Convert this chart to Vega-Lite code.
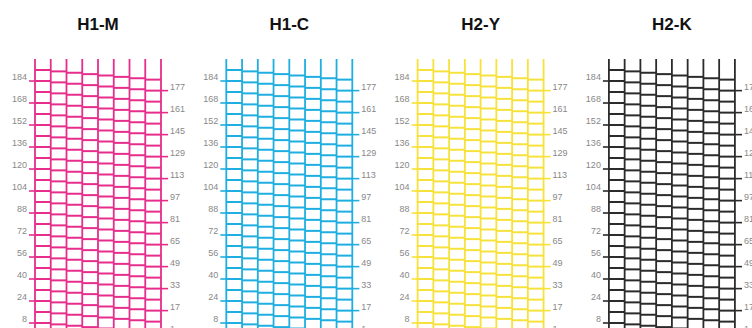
{
"$schema": "https://vega.github.io/schema/vega-lite/v6.json",
"bounds": "flush",
"padding": {"left": 11, "top": 16, "right": 0, "bottom": 0},
"spacing": 65.3,
"background": "white",
"config": {"view": {"stroke": null}, "title": {"font": "Liberation Sans", "fontSize": 17, "fontWeight": "bold", "color": "#111", "anchor": "middle", "baseline": "alphabetic", "offset": 24}},
"datasets": {
"noz": [
{"n":192,"c":0},{"n":191,"c":1},{"n":190,"c":2},{"n":189,"c":3},{"n":188,"c":4},{"n":187,"c":5},{"n":186,"c":6},{"n":185,"c":7},
{"n":184,"c":0},{"n":183,"c":1},{"n":182,"c":2},{"n":181,"c":3},{"n":180,"c":4},{"n":179,"c":5},{"n":178,"c":6},{"n":177,"c":7},
{"n":176,"c":0},{"n":175,"c":1},{"n":174,"c":2},{"n":173,"c":3},{"n":172,"c":4},{"n":171,"c":5},{"n":170,"c":6},{"n":169,"c":7},
{"n":168,"c":0},{"n":167,"c":1},{"n":166,"c":2},{"n":165,"c":3},{"n":164,"c":4},{"n":163,"c":5},{"n":162,"c":6},{"n":161,"c":7},
{"n":160,"c":0},{"n":159,"c":1},{"n":158,"c":2},{"n":157,"c":3},{"n":156,"c":4},{"n":155,"c":5},{"n":154,"c":6},{"n":153,"c":7},
{"n":152,"c":0},{"n":151,"c":1},{"n":150,"c":2},{"n":149,"c":3},{"n":148,"c":4},{"n":147,"c":5},{"n":146,"c":6},{"n":145,"c":7},
{"n":144,"c":0},{"n":143,"c":1},{"n":142,"c":2},{"n":141,"c":3},{"n":140,"c":4},{"n":139,"c":5},{"n":138,"c":6},{"n":137,"c":7},
{"n":136,"c":0},{"n":135,"c":1},{"n":134,"c":2},{"n":133,"c":3},{"n":132,"c":4},{"n":131,"c":5},{"n":130,"c":6},{"n":129,"c":7},
{"n":128,"c":0},{"n":127,"c":1},{"n":126,"c":2},{"n":125,"c":3},{"n":124,"c":4},{"n":123,"c":5},{"n":122,"c":6},{"n":121,"c":7},
{"n":120,"c":0},{"n":119,"c":1},{"n":118,"c":2},{"n":117,"c":3},{"n":116,"c":4},{"n":115,"c":5},{"n":114,"c":6},{"n":113,"c":7},
{"n":112,"c":0},{"n":111,"c":1},{"n":110,"c":2},{"n":109,"c":3},{"n":108,"c":4},{"n":107,"c":5},{"n":106,"c":6},{"n":105,"c":7},
{"n":104,"c":0},{"n":103,"c":1},{"n":102,"c":2},{"n":101,"c":3},{"n":100,"c":4},{"n":99,"c":5},{"n":98,"c":6},{"n":97,"c":7},
{"n":96,"c":0},{"n":95,"c":1},{"n":94,"c":2},{"n":93,"c":3},{"n":92,"c":4},{"n":91,"c":5},{"n":90,"c":6},{"n":89,"c":7},
{"n":88,"c":0},{"n":87,"c":1},{"n":86,"c":2},{"n":85,"c":3},{"n":84,"c":4},{"n":83,"c":5},{"n":82,"c":6},{"n":81,"c":7},
{"n":80,"c":0},{"n":79,"c":1},{"n":78,"c":2},{"n":77,"c":3},{"n":76,"c":4},{"n":75,"c":5},{"n":74,"c":6},{"n":73,"c":7},
{"n":72,"c":0},{"n":71,"c":1},{"n":70,"c":2},{"n":69,"c":3},{"n":68,"c":4},{"n":67,"c":5},{"n":66,"c":6},{"n":65,"c":7},
{"n":64,"c":0},{"n":63,"c":1},{"n":62,"c":2},{"n":61,"c":3},{"n":60,"c":4},{"n":59,"c":5},{"n":58,"c":6},{"n":57,"c":7},
{"n":56,"c":0},{"n":55,"c":1},{"n":54,"c":2},{"n":53,"c":3},{"n":52,"c":4},{"n":51,"c":5},{"n":50,"c":6},{"n":49,"c":7},
{"n":48,"c":0},{"n":47,"c":1},{"n":46,"c":2},{"n":45,"c":3},{"n":44,"c":4},{"n":43,"c":5},{"n":42,"c":6},{"n":41,"c":7},
{"n":40,"c":0},{"n":39,"c":1},{"n":38,"c":2},{"n":37,"c":3},{"n":36,"c":4},{"n":35,"c":5},{"n":34,"c":6},{"n":33,"c":7},
{"n":32,"c":0},{"n":31,"c":1},{"n":30,"c":2},{"n":29,"c":3},{"n":28,"c":4},{"n":27,"c":5},{"n":26,"c":6},{"n":25,"c":7},
{"n":24,"c":0},{"n":23,"c":1},{"n":22,"c":2},{"n":21,"c":3},{"n":20,"c":4},{"n":19,"c":5},{"n":18,"c":6},{"n":17,"c":7},
{"n":16,"c":0},{"n":15,"c":1},{"n":14,"c":2},{"n":13,"c":3},{"n":12,"c":4},{"n":11,"c":5},{"n":10,"c":6},{"n":9,"c":7},
{"n":8,"c":0},{"n":7,"c":1},{"n":6,"c":2},{"n":5,"c":3},{"n":4,"c":4},{"n":3,"c":5},{"n":2,"c":6},{"n":1,"c":7}
],
"bounds": [{"b":0},{"b":1},{"b":2},{"b":3},{"b":4},{"b":5},{"b":6},{"b":7},{"b":8}],
"left": [{"n":184},{"n":168},{"n":152},{"n":136},{"n":120},{"n":104},{"n":88},{"n":72},{"n":56},{"n":40},{"n":24},{"n":8}],
"right": [{"n":177},{"n":161},{"n":145},{"n":129},{"n":113},{"n":97},{"n":81},{"n":65},{"n":49},{"n":33},{"n":17},{"n":1}]
},
"hconcat": [
{"width": 126, "height": 275, "title": "H1-M",
 "layer": [
  {"data": {"name": "noz"}, "mark": {"type": "tick", "orient": "horizontal", "size": 15.75, "thickness": 2, "xOffset": 7.875, "color": "#e62d8c", "opacity": 1},
   "encoding": {"x": {"field": "c", "type": "quantitative", "scale": {"domain": [0, 8]}, "axis": null}, "y": {"field": "n", "type": "quantitative", "scale": {"domain": [0, 192]}, "axis": null}}},
  {"data": {"name": "bounds"}, "mark": {"type": "rule", "color": "#e62d8c", "strokeWidth": 1.8}, "encoding": {"x": {"field": "b", "type": "quantitative"}}},
  {"data": {"name": "left"}, "mark": {"type": "rule", "color": "#e62d8c", "strokeWidth": 1.6}, "encoding": {"x": {"datum": -0.38}, "x2": {"datum": 0}, "y": {"field": "n", "type": "quantitative"}}},
  {"data": {"name": "right"}, "mark": {"type": "rule", "color": "#e62d8c", "strokeWidth": 1.6}, "encoding": {"x": {"datum": 8}, "x2": {"datum": 8.45}, "y": {"field": "n", "type": "quantitative"}}},
  {"data": {"name": "left"}, "mark": {"type": "text", "align": "right", "baseline": "alphabetic", "dx": -8, "dy": -1, "font": "Liberation Sans", "fontSize": 9, "color": "#888"}, "encoding": {"x": {"datum": 0}, "y": {"field": "n", "type": "quantitative"}, "text": {"field": "n"}}},
  {"data": {"name": "right"}, "mark": {"type": "text", "align": "left", "baseline": "alphabetic", "dx": 9, "dy": -1, "font": "Liberation Sans", "fontSize": 9, "color": "#888"}, "encoding": {"x": {"datum": 8}, "y": {"field": "n", "type": "quantitative"}, "text": {"field": "n"}}}
 ]},
{"width": 126, "height": 275, "title": "H1-C",
 "layer": [
  {"data": {"name": "noz"}, "mark": {"type": "tick", "orient": "horizontal", "size": 15.75, "thickness": 2, "xOffset": 7.875, "color": "#1eaee0", "opacity": 1},
   "encoding": {"x": {"field": "c", "type": "quantitative", "scale": {"domain": [0, 8]}, "axis": null}, "y": {"field": "n", "type": "quantitative", "scale": {"domain": [0, 192]}, "axis": null}}},
  {"data": {"name": "bounds"}, "mark": {"type": "rule", "color": "#1eaee0", "strokeWidth": 1.8}, "encoding": {"x": {"field": "b", "type": "quantitative"}}},
  {"data": {"name": "left"}, "mark": {"type": "rule", "color": "#1eaee0", "strokeWidth": 1.6}, "encoding": {"x": {"datum": -0.38}, "x2": {"datum": 0}, "y": {"field": "n", "type": "quantitative"}}},
  {"data": {"name": "right"}, "mark": {"type": "rule", "color": "#1eaee0", "strokeWidth": 1.6}, "encoding": {"x": {"datum": 8}, "x2": {"datum": 8.45}, "y": {"field": "n", "type": "quantitative"}}},
  {"data": {"name": "left"}, "mark": {"type": "text", "align": "right", "baseline": "alphabetic", "dx": -8, "dy": -1, "font": "Liberation Sans", "fontSize": 9, "color": "#888"}, "encoding": {"x": {"datum": 0}, "y": {"field": "n", "type": "quantitative"}, "text": {"field": "n"}}},
  {"data": {"name": "right"}, "mark": {"type": "text", "align": "left", "baseline": "alphabetic", "dx": 9, "dy": -1, "font": "Liberation Sans", "fontSize": 9, "color": "#888"}, "encoding": {"x": {"datum": 8}, "y": {"field": "n", "type": "quantitative"}, "text": {"field": "n"}}}
 ]},
{"width": 126, "height": 275, "title": "H2-Y",
 "layer": [
  {"data": {"name": "noz"}, "mark": {"type": "tick", "orient": "horizontal", "size": 15.75, "thickness": 2, "xOffset": 7.875, "color": "#f7e23c", "opacity": 1},
   "encoding": {"x": {"field": "c", "type": "quantitative", "scale": {"domain": [0, 8]}, "axis": null}, "y": {"field": "n", "type": "quantitative", "scale": {"domain": [0, 192]}, "axis": null}}},
  {"data": {"name": "bounds"}, "mark": {"type": "rule", "color": "#f7e23c", "strokeWidth": 1.8}, "encoding": {"x": {"field": "b", "type": "quantitative"}}},
  {"data": {"name": "left"}, "mark": {"type": "rule", "color": "#f7e23c", "strokeWidth": 1.6}, "encoding": {"x": {"datum": -0.38}, "x2": {"datum": 0}, "y": {"field": "n", "type": "quantitative"}}},
  {"data": {"name": "right"}, "mark": {"type": "rule", "color": "#f7e23c", "strokeWidth": 1.6}, "encoding": {"x": {"datum": 8}, "x2": {"datum": 8.45}, "y": {"field": "n", "type": "quantitative"}}},
  {"data": {"name": "left"}, "mark": {"type": "text", "align": "right", "baseline": "alphabetic", "dx": -8, "dy": -1, "font": "Liberation Sans", "fontSize": 9, "color": "#888"}, "encoding": {"x": {"datum": 0}, "y": {"field": "n", "type": "quantitative"}, "text": {"field": "n"}}},
  {"data": {"name": "right"}, "mark": {"type": "text", "align": "left", "baseline": "alphabetic", "dx": 9, "dy": -1, "font": "Liberation Sans", "fontSize": 9, "color": "#888"}, "encoding": {"x": {"datum": 8}, "y": {"field": "n", "type": "quantitative"}, "text": {"field": "n"}}}
 ]},
{"width": 126, "height": 275, "title": "H2-K",
 "layer": [
  {"data": {"name": "noz"}, "mark": {"type": "tick", "orient": "horizontal", "size": 15.75, "thickness": 2, "xOffset": 7.875, "color": "#2b2b2b", "opacity": 1},
   "encoding": {"x": {"field": "c", "type": "quantitative", "scale": {"domain": [0, 8]}, "axis": null}, "y": {"field": "n", "type": "quantitative", "scale": {"domain": [0, 192]}, "axis": null}}},
  {"data": {"name": "bounds"}, "mark": {"type": "rule", "color": "#2b2b2b", "strokeWidth": 1.8}, "encoding": {"x": {"field": "b", "type": "quantitative"}}},
  {"data": {"name": "left"}, "mark": {"type": "rule", "color": "#2b2b2b", "strokeWidth": 1.6}, "encoding": {"x": {"datum": -0.38}, "x2": {"datum": 0}, "y": {"field": "n", "type": "quantitative"}}},
  {"data": {"name": "right"}, "mark": {"type": "rule", "color": "#2b2b2b", "strokeWidth": 1.6}, "encoding": {"x": {"datum": 8}, "x2": {"datum": 8.45}, "y": {"field": "n", "type": "quantitative"}}},
  {"data": {"name": "left"}, "mark": {"type": "text", "align": "right", "baseline": "alphabetic", "dx": -8, "dy": -1, "font": "Liberation Sans", "fontSize": 9, "color": "#888"}, "encoding": {"x": {"datum": 0}, "y": {"field": "n", "type": "quantitative"}, "text": {"field": "n"}}},
  {"data": {"name": "right"}, "mark": {"type": "text", "align": "left", "baseline": "alphabetic", "dx": 9, "dy": -1, "font": "Liberation Sans", "fontSize": 9, "color": "#888"}, "encoding": {"x": {"datum": 8}, "y": {"field": "n", "type": "quantitative"}, "text": {"field": "n"}}}
 ]}
]
}
